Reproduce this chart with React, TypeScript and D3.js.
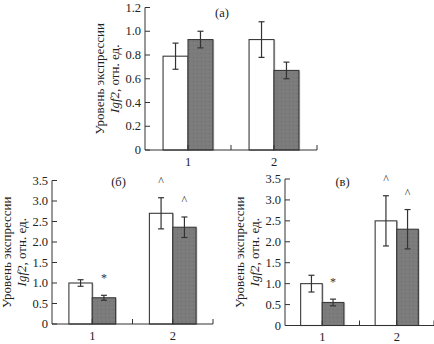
import React from "react";
import * as d3 from "d3";

const categories = ["1", "2"];

// panel (а)
const aWhite = [0.79, 0.93];
const aWhiteErr = [0.11, 0.15];
const aGray = [0.93, 0.67];
const aGrayErr = [0.07, 0.07];
const aWhiteMarks = ["", ""];
const aGrayMarks = ["", ""];
const aTicks = [0, 0.2, 0.4, 0.6, 0.8, 1.0, 1.2];

// panel (б)
const bWhite = [1.0, 2.7];
const bWhiteErr = [0.08, 0.38];
const bGray = [0.64, 2.36];
const bGrayErr = [0.06, 0.25];
const bWhiteMarks = ["", "^"];
const bGrayMarks = ["*", "^"];
const bTicks = [0, 0.5, 1.0, 1.5, 2.0, 2.5, 3.0, 3.5];

// panel (в)
const cWhite = [1.0, 2.5];
const cWhiteErr = [0.2, 0.6];
const cGray = [0.55, 2.3];
const cGrayErr = [0.08, 0.47];
const cWhiteMarks = ["", "^"];
const cGrayMarks = ["*", "^"];
const cTicks = bTicks;

const titleLine1 = "Уровень экспрессии";
const titleGene = "Igf2";
const titleRest = ", отн. ед.";

const FONT = "Liberation Serif";
const AXIS = "#333";
const TXT: React.CSSProperties = { fontFamily: FONT };

type PanelProps = {
  label: string;
  white: number[];
  whiteErr: number[];
  gray: number[];
  grayErr: number[];
  whiteMarks: string[];
  grayMarks: string[];
  ticks: number[];
  yMax: number;
  x0: number;
  x1: number;
  y0: number;
  y1: number;
  labelDx: number;
  labelDy: number;
};

function fmt(v: number) {
  return v === 0 ? "0" : d3.format(".1f")(v);
}

function Panel(p: PanelProps) {
  const x = d3.scaleLinear().domain([0.5, 2.5]).range([p.x0, p.x1]);
  const y = d3.scaleLinear().domain([0, p.yMax]).range([p.y0, p.y1]);
  const bw = x(1.29) - x(1);
  const series = [
    { vals: p.white, errs: p.whiteErr, marks: p.whiteMarks, fill: "#ffffff", off: -1 },
    { vals: p.gray, errs: p.grayErr, marks: p.grayMarks, fill: "url(#dots)", off: 0 },
  ];
  const xTicks = [1, 1.5, 2, 2.5];
  const midY = (p.y0 + p.y1) / 2;
  return (
    <g>
      {series.map((s, si) =>
        s.vals.map((v, i) => {
          const cx = x(i + 1);
          const left = cx + s.off * bw;
          const top = y(v);
          const mid = left + bw / 2;
          const eTop = y(v + s.errs[i]);
          const eBot = y(v - s.errs[i]);
          return (
            <g key={`${si}-${i}`}>
              <rect x={left + 1.3} y={top + 0.5} width={bw} height={y(0) - top} fill="#c8c8c8" />
              <rect
                x={left}
                y={top}
                width={bw}
                height={y(0) - top}
                fill={s.fill}
                stroke="#3a3a3a"
                strokeWidth={1.1}
              />
              <line x1={mid} x2={mid} y1={eTop} y2={eBot} stroke="#333" strokeWidth={1.2} />
              <line x1={mid - 3} x2={mid + 3} y1={eTop} y2={eTop} stroke="#333" strokeWidth={1.2} />
              <line x1={mid - 3} x2={mid + 3} y1={eBot} y2={eBot} stroke="#333" strokeWidth={1.2} />
              {s.marks[i] ? (
                <text x={mid} y={eTop - 13} textAnchor="middle" fontSize={12} fill="#333" style={TXT}>
                  {s.marks[i]}
                </text>
              ) : null}
            </g>
          );
        })
      )}
      <line x1={x(0.5)} x2={x(0.5)} y1={y(0)} y2={y(p.yMax)} stroke={AXIS} strokeWidth={1} />
      <line x1={x(0.5)} x2={x(2.5)} y1={y(0)} y2={y(0)} stroke={AXIS} strokeWidth={1} />
      {p.ticks.map((t) => (
        <g key={`yt${t}`}>
          <line x1={x(0.5)} x2={x(0.5) + 5} y1={y(t)} y2={y(t)} stroke={AXIS} />
          <text x={x(0.5) - 4} y={y(t) + 4} textAnchor="end" fontSize={12.5} fill="#222" style={TXT}>
            {fmt(t)}
          </text>
        </g>
      ))}
      {xTicks.map((t) => (
        <line key={`xt${t}`} x1={x(t)} x2={x(t)} y1={y(0)} y2={y(0) - 5} stroke={AXIS} />
      ))}
      {categories.map((c, i) => (
        <text key={c} x={x(i + 1)} y={y(0) + 15.5} textAnchor="middle" fontSize={12.5} fill="#222" style={TXT}>
          {c}
        </text>
      ))}
      <text
        x={x(1.5) + p.labelDx}
        y={p.y1 + p.labelDy}
        textAnchor="middle"
        fontSize={12.5}
        fill="#222"
        style={TXT}
      >
        {p.label}
      </text>
      <text
        transform={`translate(${x(0.5) - 41},${midY}) rotate(-90)`}
        textAnchor="middle"
        fontSize={13}
        fill="#222"
        style={TXT}
      >
        {titleLine1}
      </text>
      <text
        transform={`translate(${x(0.5) - 26},${midY}) rotate(-90)`}
        textAnchor="middle"
        fontSize={13}
        fill="#222"
        style={TXT}
      >
        <tspan fontStyle="italic">{titleGene}</tspan>
        <tspan>{titleRest}</tspan>
      </text>
    </g>
  );
}

export default function App() {
  return (
    <svg
      width={434}
      height={344}
      style={{ position: "absolute", left: 0, top: 0, background: "#fff" }}
    >
      <defs>
        <pattern id="dots" width="4" height="4" patternUnits="userSpaceOnUse">
          <rect width="4" height="4" fill="#7c7c7c" />
          <rect x="1" y="1" width="1" height="1" fill="#6c6c6c" />
        </pattern>
      </defs>
      <Panel
        label="(а)"
        white={aWhite}
        whiteErr={aWhiteErr}
        gray={aGray}
        grayErr={aGrayErr}
        whiteMarks={aWhiteMarks}
        grayMarks={aGrayMarks}
        ticks={aTicks}
        yMax={1.2}
        x0={145}
        x1={317}
        y0={150}
        y1={7.5}
        labelDx={-9}
        labelDy={9.5}
      />
      <Panel
        label="(б)"
        white={bWhite}
        whiteErr={bWhiteErr}
        gray={bGray}
        grayErr={bGrayErr}
        whiteMarks={bWhiteMarks}
        grayMarks={bGrayMarks}
        ticks={bTicks}
        yMax={3.5}
        x0={52}
        x1={213}
        y0={324}
        y1={180.5}
        labelDx={-14}
        labelDy={5.5}
      />
      <Panel
        label="(в)"
        white={cWhite}
        whiteErr={cWhiteErr}
        gray={cGray}
        grayErr={cGrayErr}
        whiteMarks={cWhiteMarks}
        grayMarks={cGrayMarks}
        ticks={cTicks}
        yMax={3.5}
        x0={285}
        x1={434}
        y0={325.5}
        y1={179}
        labelDx={-17}
        labelDy={7}
      />
    </svg>
  );
}
